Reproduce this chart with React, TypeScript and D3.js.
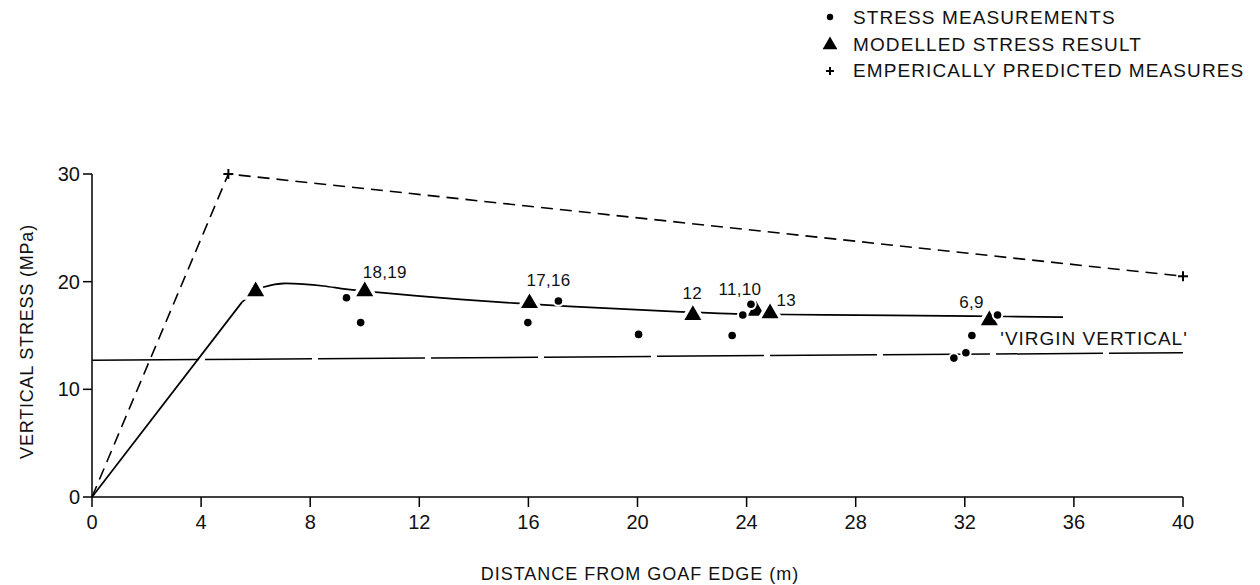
import React from 'react';
import * as d3 from 'd3';

// ---- data ----
const xTicks = [0, 4, 8, 12, 16, 20, 24, 28, 32, 36, 40];
const yTicks = [0, 10, 20, 30];

// Stress measurements (dots)
const measX = [9.33, 9.85, 15.98, 17.1, 20.04, 23.47, 23.86, 24.16, 31.6, 32.04, 32.26, 33.2];
const measY = [18.5, 16.2, 16.2, 18.2, 15.1, 15.0, 16.9, 17.9, 12.9, 13.4, 15.0, 16.9];

// Modelled stress results (triangles)
const modX = [6.0, 10.0, 16.04, 22.03, 24.35, 24.86, 32.9];
const modY = [19.1, 19.1, 18.0, 16.9, 17.3, 17.05, 16.4];

// Modelled stress curve
const curveRiseX = [0, 5.5];
const curveRiseY = [0, 18.1];
const curveX = [5.5, 6.3, 7.1, 8.5, 9.3, 10.5, 13.5, 15.5, 17.5, 21.6, 23.6, 25.4, 28.1, 32.3, 35.6];
const curveY = [18.1, 19.5, 19.85, 19.6, 19.3, 19.0, 18.35, 18.0, 17.7, 17.2, 17.0, 16.95, 16.9, 16.8, 16.7];

// Empirically predicted measures
const empX = [0, 5, 40];
const empY = [0, 30, 20.5];
const empMarkX = [5, 40];
const empMarkY = [30, 20.5];

// Virgin vertical stress line
const virginX = [0, 40];
const virginY = [12.7, 13.4];

// Annotations
const annText = ['18,19', '17,16', '12', '11,10', '13', '6,9', "'VIRGIN VERTICAL'"];
const annX = [9.93, 15.93, 21.65, 22.97, 25.1, 31.8, 33.3];
const annY = [20.33, 19.6, 18.4, 18.75, 17.7, 17.6, 14.1];

const legendLabels = ['STRESS MEASUREMENTS', 'MODELLED STRESS RESULT', 'EMPERICALLY PREDICTED MEASURES'];

const xTitle = 'DISTANCE FROM GOAF EDGE (m)';
const yTitle = 'VERTICAL STRESS (MPa)';

const W = 1260;
const H = 585;
const FONT = '"Liberation Sans", Arial, Helvetica, sans-serif';

export default function App() {
  const x = d3.scaleLinear().domain([0, 40]).range([92, 1183]);
  const y = d3.scaleLinear().domain([0, 30]).range([497, 174]);

  const line = d3
    .line<[number, number]>()
    .x((d) => x(d[0]))
    .y((d) => y(d[1]));
  const smooth = d3
    .line<[number, number]>()
    .x((d) => x(d[0]))
    .y((d) => y(d[1]))
    .curve(d3.curveMonotoneX);

  const zip = (a: number[], b: number[]) => a.map((v, i) => [v, b[i]] as [number, number]);

  const tri = d3.symbol(d3.symbolTriangle, 125)() as string;
  const triLegend = d3.symbol(d3.symbolTriangle, 95)() as string;

  const plus = (cx: number, cy: number, s: number, key: string) => (
    <g key={key} stroke="#000" strokeWidth={2}>
      <line x1={cx - s} x2={cx + s} y1={cy} y2={cy} />
      <line x1={cx} x2={cx} y1={cy - s} y2={cy + s} />
    </g>
  );

  const x0 = x(0);
  const y0 = y(0);

  return (
    <div style={{ position: 'fixed', left: 0, top: 0, width: W, height: H, background: '#fff' }}>
      <svg width={W} height={H} style={{ display: 'block', background: '#fff' }} fontFamily={FONT}>
        {/* Legend */}
        <g>
          <circle cx={830} cy={17} r={3.2} fill="#000" />
          <path d={triLegend} transform="translate(830,45)" fill="#000" />
          {plus(830, 71, 4, 'lp')}
          {legendLabels.map((t, i) => (
            <text key={t} x={853} y={24 + i * 26.5} fontSize={19} letterSpacing={1.1} fill="#111">
              {t}
            </text>
          ))}
        </g>

        {/* Axes */}
        <g stroke="#000" strokeWidth={1.5} fill="none">
          <line x1={x0} x2={x0} y1={y(0)} y2={y(30)} />
          <line x1={x0} x2={x(40)} y1={y0} y2={y0} />
          {yTicks.map((t) => (
            <line key={'yt' + t} x1={x0 - 9} x2={x0} y1={y(t)} y2={y(t)} />
          ))}
          {xTicks.map((t) => (
            <line key={'xt' + t} x1={x(t)} x2={x(t)} y1={y0} y2={y0 + 10} />
          ))}
        </g>
        {yTicks.map((t) => (
          <text key={'yl' + t} x={x0 - 12} y={y(t) + 7} fontSize={20} textAnchor="end" fill="#111">
            {t}
          </text>
        ))}
        {xTicks.map((t) => (
          <text key={'xl' + t} x={x(t)} y={y0 + 32} fontSize={20} textAnchor="middle" fill="#111">
            {t}
          </text>
        ))}
        <text x={640} y={580} fontSize={18} letterSpacing={1} textAnchor="middle" fill="#111">
          {xTitle}
        </text>
        <text
          transform={`translate(33,${(y(0) + y(30)) / 2 + 6}) rotate(-90)`}
          fontSize={18}
          letterSpacing={0.8}
          textAnchor="middle"
          fill="#111"
        >
          {yTitle}
        </text>

        {/* Virgin vertical line */}
        <path
          d={line(zip(virginX, virginY)) as string}
          fill="none"
          stroke="#000"
          strokeWidth={1.5}
          strokeDasharray="107,6"
        />

        {/* Empirical prediction */}
        <path
          d={line(zip(empX, empY)) as string}
          fill="none"
          stroke="#000"
          strokeWidth={1.6}
          strokeDasharray="12,7"
        />

        {/* Modelled curve */}
        <path d={line(zip(curveRiseX, curveRiseY)) as string} fill="none" stroke="#000" strokeWidth={1.7} />
        <path d={smooth(zip(curveX, curveY)) as string} fill="none" stroke="#000" strokeWidth={1.7} />

        {/* Empirical markers */}
        {empMarkX.map((v, i) => plus(x(v), y(empMarkY[i]), 5, 'em' + i))}

        {/* Modelled triangles */}
        {modX.map((v, i) => (
          <path
            key={'m' + i}
            d={tri}
            transform={`translate(${x(v)},${y(modY[i])})`}
            fill="#000"
            stroke="#fff"
            strokeWidth={7}
            style={{ paintOrder: 'stroke' }}
          />
        ))}

        {/* Measurements */}
        {measX.map((v, i) => (
          <circle
            key={'d' + i}
            cx={x(v)}
            cy={y(measY[i])}
            r={3.8}
            fill="#000"
            stroke="#fff"
            strokeWidth={4}
            style={{ paintOrder: 'stroke' }}
          />
        ))}

        {/* Annotations */}
        {annText.map((t, i) => (
          <text
            key={'a' + i}
            x={x(annX[i])}
            y={y(annY[i])}
            fontSize={i === annText.length - 1 ? 19 : 17}
            letterSpacing={i === annText.length - 1 ? 1 : 0.3}
            fill="#111"
          >
            {t}
          </text>
        ))}
      </svg>
    </div>
  );
}
